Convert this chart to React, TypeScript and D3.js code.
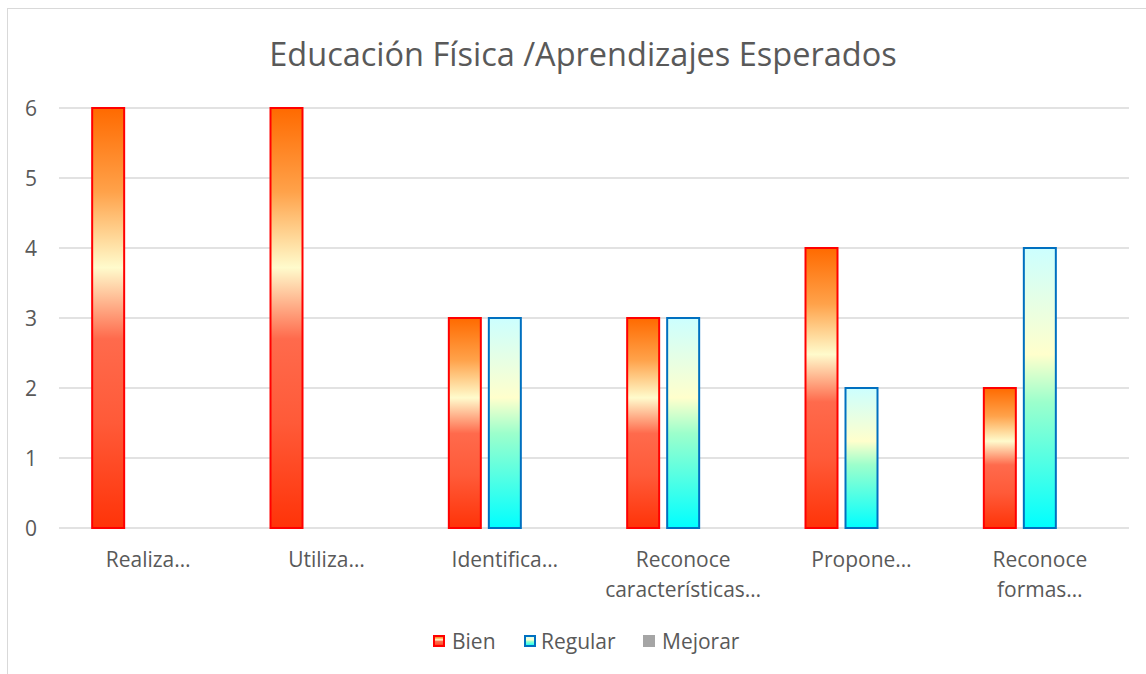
import React from "react";
import * as d3 from "d3";

const title = "Educación Física /Aprendizajes Esperados";
const categories = [
  ["Realiza…"],
  ["Utiliza…"],
  ["Identifica…"],
  ["Reconoce", "características…"],
  ["Propone…"],
  ["Reconoce", "formas…"],
];
const seriesNames = ["Bien", "Regular", "Mejorar"];
const bien = [6, 6, 3, 3, 4, 2];
const regular = [0, 0, 3, 3, 2, 4];
const mejorar = [0, 0, 0, 0, 0, 0];
const yTicks = [0, 1, 2, 3, 4, 5, 6];

const W = 1146;
const H = 674;
const left = 59;
const right = 1129;
const top = 108;
const bottom = 528;
const font = "'Open Sans', 'Noto Sans', sans-serif";
const textColor = "#595959";

export default function App() {
  const values = [bien, regular, mejorar];
  const x0 = d3
    .scaleBand<number>()
    .domain(categories.map((_, i) => i))
    .range([left, right])
    .padding(0);
  const step = x0.bandwidth();
  const groupW = 112;
  const x1 = d3
    .scaleBand<string>()
    .domain(seriesNames)
    .range([(step - groupW) / 2, (step + groupW) / 2])
    .paddingInner(0.2)
    .paddingOuter(0);
  const y = d3.scaleLinear().domain([0, 6]).range([bottom, top]);

  const fills = ["url(#gBien)", "url(#gRegular)", "#A5A5A5"];
  const strokes = ["#FF0000", "#0070C0", "#A5A5A5"];

  const legendItems = [
    { name: "Bien", mx: 433, tx: 452 },
    { name: "Regular", mx: 524, tx: 541 },
    { name: "Mejorar", mx: 643, tx: 662 },
  ];

  return (
    <svg
      width={W}
      height={H}
      style={{ position: "absolute", left: 0, top: 0, background: "#fff" }}
    >
      <defs>
        <linearGradient id="gBien" x1="0" y1="0" x2="0" y2="1">
          <stop offset="0" stopColor="#FF6A00" />
          <stop offset="0.2" stopColor="#FFA24A" />
          <stop offset="0.38" stopColor="#FFFBCC" />
          <stop offset="0.55" stopColor="#FF6A4C" />
          <stop offset="0.75" stopColor="#FF5A38" />
          <stop offset="1" stopColor="#FF3308" />
        </linearGradient>
        <linearGradient id="gRegular" x1="0" y1="0" x2="0" y2="1">
          <stop offset="0" stopColor="#CCFFFF" />
          <stop offset="0.38" stopColor="#FFFFCC" />
          <stop offset="0.55" stopColor="#9CFFCC" />
          <stop offset="1" stopColor="#00FFFF" />
        </linearGradient>
      </defs>
      <rect x={7.5} y={8.5} width={1150} height={700} fill="#fff" stroke="#D9D9D9" strokeWidth={1} />
      <text
        x={583}
        y={66}
        textAnchor="middle"
        fontFamily={font}
        fontSize={32.5}
        fill={textColor}
      >
        {title}
      </text>
      {yTicks.map((t) => (
        <g key={t}>
          <line x1={left} x2={right} y1={y(t)} y2={y(t)} stroke="#D9D9D9" strokeWidth={1.3} />
          <text
            x={31}
            y={y(t)}
            dy="0.36em"
            textAnchor="middle"
            fontFamily={font}
            fontSize={21}
            fill={textColor}
          >
            {t}
          </text>
        </g>
      ))}
      {categories.map((cat, i) =>
        values.map((vals, s) => {
          const v = vals[i];
          if (v <= 0) return null;
          const bx = (x0(i) as number) + (x1(seriesNames[s]) as number);
          return (
            <rect
              key={`${i}-${s}`}
              x={bx}
              y={y(v)}
              width={x1.bandwidth()}
              height={y(0) - y(v)}
              fill={fills[s]}
              stroke={strokes[s]}
              strokeWidth={2}
            />
          );
        })
      )}
      {categories.map((cat, i) => (
        <text
          key={i}
          x={(x0(i) as number) + step / 2}
          y={567}
          textAnchor="middle"
          fontFamily={font}
          fontSize={21}
          fill={textColor}
        >
          {cat.map((line, j) => (
            <tspan key={j} x={(x0(i) as number) + step / 2} dy={j === 0 ? 0 : 30}>
              {line}
            </tspan>
          ))}
        </text>
      ))}
      {legendItems.map((it, s) => (
        <g key={it.name}>
          <rect
            x={it.mx + 1}
            y={636}
            width={10}
            height={10}
            fill={fills[s]}
            stroke={strokes[s]}
            strokeWidth={2}
          />
          <text x={it.tx} y={641} dy="0.36em" fontFamily={font} fontSize={21} fill={textColor}>
            {it.name}
          </text>
        </g>
      ))}
    </svg>
  );
}
